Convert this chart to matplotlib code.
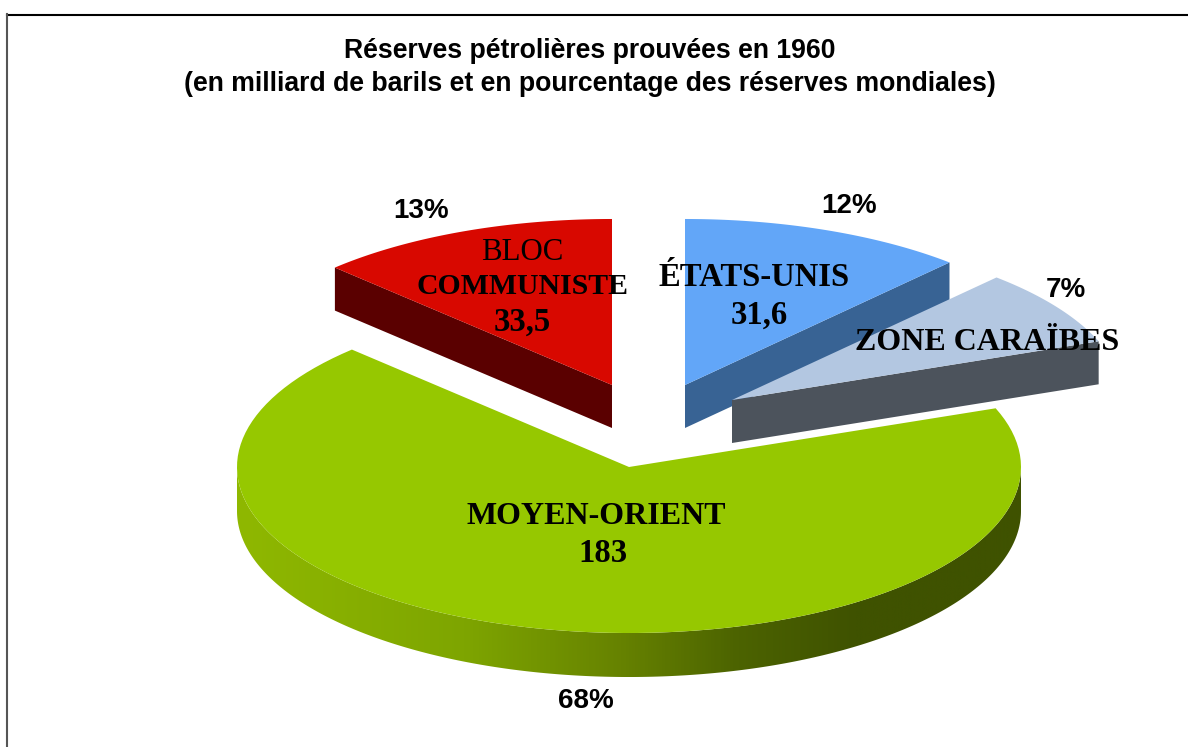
import numpy as np
import matplotlib
matplotlib.use("Agg")
import matplotlib.pyplot as plt
from matplotlib.colors import LinearSegmentedColormap
from matplotlib.patches import Polygon

# clockwise from 12 o'clock; the Caribbean figure is not printed, estimated from its 7%
zones = ["ÉTATS-UNIS", "ZONE CARAÏBES", "MOYEN-ORIENT", "BLOC COMMUNISTE"]
reserves = [31.6, 20, 183, 33.5]
percents = ["12%", "7%", "68%", "13%"]
value_labels = ["31,6", "", "183", "33,5"]

TITLE = "Réserves pétrolières prouvées en 1960\n(en milliard de barils et en pourcentage des réserves mondiales)"
W, H = 1188, 747
R, SQUASH, DEPTH = 392, 0.4235, 43

# pie geometry: apex of each exploded slice, in pixels
APEX = [(685, 385), (732, 400), (629, 467), (612, 385)]
TOP = ["#62a6f8", "#b3c7e1", "#96c800", "#d80800"]
SIDE = ["#386394", "#4c535c", None, "#5a0000"]
RIM = [(0, "#8fb800"), (0.29, "#7ea500"), (0.49, "#668200"), (0.64, "#4c6300"), (0.79, "#3f5200"), (1, "#3f5200")]


def arc(apex, t0, t1, n=120, dz=0):
    t = np.radians(np.linspace(t0, t1, n))
    return np.column_stack([apex[0] + R * np.sin(t), apex[1] - R * SQUASH * np.cos(t) + dz])


fig = plt.figure(figsize=(W / 100, H / 100), dpi=100)
ax = fig.add_axes([0, 0, 1, 1])
ax.axis("off")

angles = np.concatenate([[0], np.cumsum(reserves) / np.sum(reserves) * 360])

# outer frame, only top and left show
ax.plot([7, W + 5], [14.6, 14.6], color="black", lw=1.5)
ax.plot([7, 7], [14, H + 5], color="#555555", lw=1.5)

# back to front: red, blue, caribbean, then the big one
for i in [3, 0, 1, 2]:
    a0, a1 = angles[i], angles[i + 1]
    apex = APEX[i]
    if i == 2:
        # rim goes dark to the right, shaded by x
        cmap = LinearSegmentedColormap.from_list("rim", RIM)
        edge_top = arc(apex, 90, 270, 240)
        edge_bot = arc(apex, 90, 270, 240, DEPTH + 1)
        rim = np.vstack([edge_top, edge_bot[::-1]])
        x0, x1 = rim[:, 0].min(), rim[:, 0].max()
        im = ax.imshow(np.linspace(0, 1, 800)[None, :], cmap=cmap, aspect="auto",
                       extent=[x0, x1, rim[:, 1].max(), rim[:, 1].min()], zorder=1)
        im.set_clip_path(Polygon(rim, transform=ax.transData))
    else:
        p = arc(apex, a0 if i == 3 else a1, a0 if i == 3 else a1, 1)[0]
        ax.add_patch(Polygon([apex, p, p + [0, DEPTH], np.add(apex, [0, DEPTH])], fc=SIDE[i], ec="none", zorder=1))
    top = np.vstack([[apex], arc(apex, a0, a1)])
    ax.add_patch(Polygon(top, fc=TOP[i], ec="none", zorder=1))

ax.set_xlim(0, W)
ax.set_ylim(H, 0)

ax.text(590, 67.5, TITLE, ha="center", va="center", family="Liberation Sans",
        fontweight="bold", fontsize=19.15, linespacing=1.38)

serif = dict(ha="center", va="center", family="Liberation Serif", color="black")
ax.text(754, 277, zones[0], fontweight="bold", fontsize=23.5, **serif)
ax.text(759, 315, value_labels[0], fontweight="bold", fontsize=23.5, **serif)
ax.text(987, 342, zones[1], fontweight="bold", fontsize=23, **serif)
ax.text(596, 516, zones[2], fontweight="bold", fontsize=23, **serif)
ax.text(603, 553, value_labels[2], fontweight="bold", fontsize=23.5, **serif)
bloc, communiste = zones[3].split()
ax.text(522, 252, bloc, fontsize=22.2, **serif)
ax.text(522, 286, communiste, fontweight="bold", fontsize=21.4, **serif)
ax.text(522, 322, value_labels[3], fontweight="bold", fontsize=23.5, **serif)

for s, x, y in zip(percents, [849, 1066, 586, 421], [206, 290, 701, 211]):
    ax.text(x, y, s, ha="center", va="center", family="Liberation Sans",
            fontweight="bold", fontsize=20)

fig.savefig("out.png", dpi=100)
